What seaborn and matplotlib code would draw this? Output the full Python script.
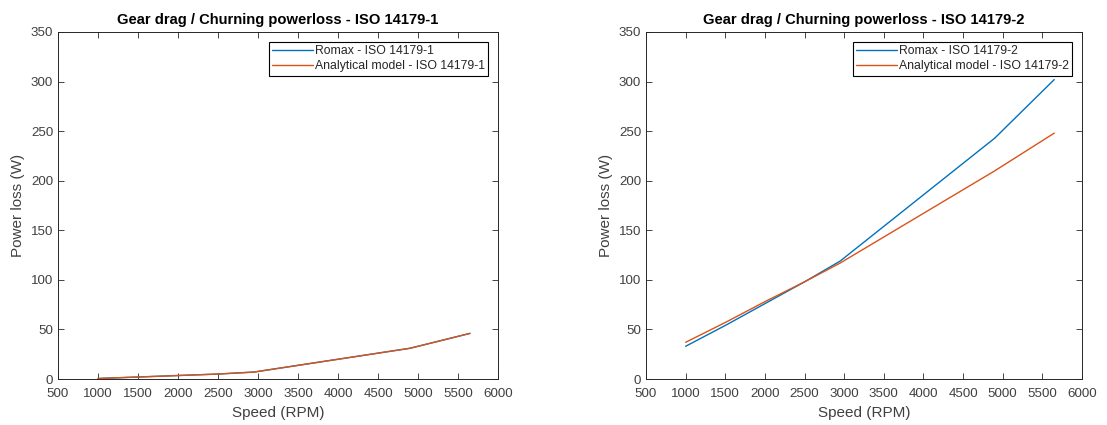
import matplotlib
matplotlib.use("Agg")
import matplotlib.pyplot as plt
import seaborn as sns
import pandas as pd

speed = [1000, 1500, 2000, 2500, 2950, 4900, 5650]
romax_1 = [0.5, 2.0, 3.5, 5.0, 7.0, 31.0, 46.0]
analytical_1 = [0.5, 2.0, 3.5, 5.0, 7.0, 31.0, 46.0]
romax_2 = [33, 54, 76, 98, 119, 243, 302]
analytical_2 = [37, 57, 78, 98, 117, 210, 248]

titles = ["Gear drag / Churning powerloss - ISO 14179-1",
          "Gear drag / Churning powerloss - ISO 14179-2"]
xticks = [500, 1000, 1500, 2000, 2500, 3000, 3500, 4000, 4500, 5000, 5500, 6000]
yticks = [0, 50, 100, 150, 200, 250, 300, 350]

sns.set_theme(style="white")
plt.rcParams['font.family'] = ['Liberation Sans', 'DejaVu Sans']

colors = ["#0072BD", "#D95319"]

fig = plt.figure(figsize=(11.07, 4.25), dpi=100)
W, H = 1107, 425
axes_px = [(58, 32, 498, 379), (646, 32, 1082, 379)]

datasets = [(romax_1, analytical_1, "ISO 14179-1"), (romax_2, analytical_2, "ISO 14179-2")]

for i, ((l, t, r, b), (rv, av, tag)) in enumerate(zip(axes_px, datasets)):
    ax = fig.add_axes([l / W, 1 - b / H, (r - l) / W, (b - t) / H])
    df = pd.DataFrame({
        "Speed": speed * 2,
        "Loss": list(rv) + list(av),
        "Series": [f"Romax - {tag}"] * len(speed) + [f"Analytical model - {tag}"] * len(speed),
    })
    sns.lineplot(data=df, x="Speed", y="Loss", hue="Series", palette=colors,
                 ax=ax, linewidth=1.0, sort=False, estimator=None)
    ax.set_xlim(500, 6000)
    ax.set_ylim(0, 350)
    ax.set_xticks(xticks)
    ax.set_yticks(yticks)
    ax.set_xlabel("Speed (RPM)", fontsize=11, color="#404040", labelpad=4)
    ax.set_ylabel("Power loss (W)", fontsize=11, color="#404040", labelpad=4)
    ax.set_title(titles[i], fontsize=10.6, fontweight="bold", color="black", pad=6)
    ax.tick_params(direction="in", length=4, width=0.6, colors="#262626",
                   labelsize=9.6, top=True, right=True, bottom=True, left=True,
                   labelcolor="#404040")
    ax.tick_params(axis="x", pad=6.5)
    for s in ax.spines.values():
        s.set_color("#262626")
        s.set_linewidth(0.7)
    leg = ax.legend(loc="upper right", fontsize=8.8, frameon=True, fancybox=False,
                    edgecolor="black", framealpha=1, borderpad=0.3,
                    handlelength=3.3, handletextpad=0.15, labelspacing=0.2,
                    borderaxespad=0.8)
    leg.get_frame().set_linewidth(0.8)
    for txt in leg.get_texts():
        txt.set_color("#262626")

fig.savefig("out.png", dpi=100)
